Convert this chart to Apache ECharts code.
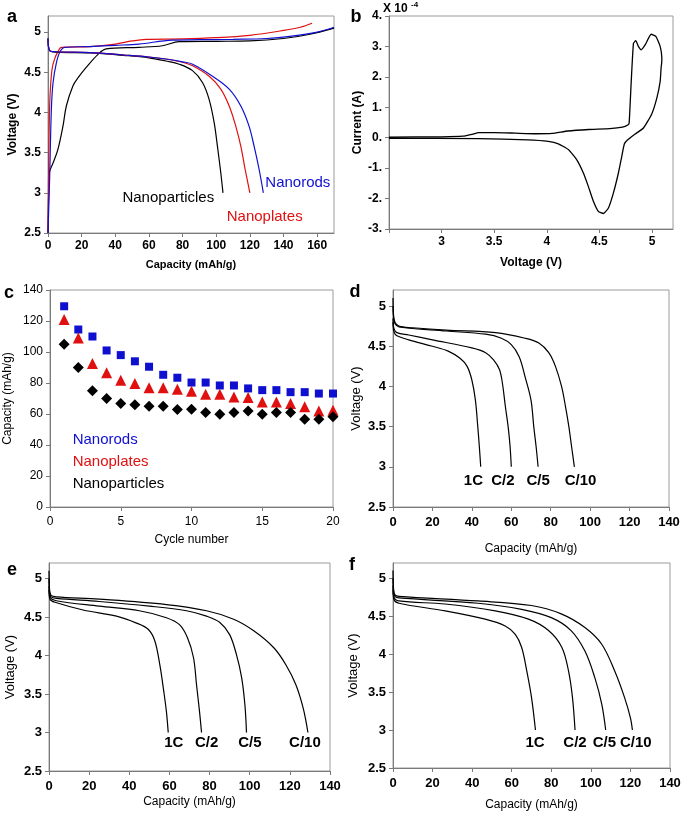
<!DOCTYPE html>
<html><head><meta charset="utf-8">
<script src="https://cdn.jsdelivr.net/npm/echarts@6/dist/echarts.min.js"></script>
<style>html,body{margin:0;padding:0;background:#fff}#c{width:685px;height:817px}</style>
</head><body><div id="c"></div>
<script>
// ---------- Panel a: charge/discharge, capacity (mAh/g) vs voltage (V)
const aRodsCharge = [[0,2.5],[0.5,2.85],[1,3.2],[2,4.04],[3,4.37],[5,4.62],[7,4.75],[9.9,4.81],[24.7,4.82],[40,4.835],[54,4.85],[73.8,4.9],[90,4.905],[110,4.91],[130,4.92],[145,4.95],[160,5.0],[170,5.06]];
const aPlatesCharge = [[0,2.5],[0.5,3.5],[1,4.1],[1.6,4.35],[2.5,4.55],[4,4.67],[6,4.76],[7.9,4.81],[25,4.82],[40,4.85],[50,4.89],[58.3,4.91],[80,4.915],[100,4.93],[120,4.96],[140,5.02],[150,5.06],[157,5.11]];
const aPartCharge = [[0,2.5],[0.4,3.0],[0.8,3.25],[3,3.37],[5.9,3.54],[8.9,3.83],[10.9,4.08],[14.8,4.33],[17.8,4.43],[22.7,4.56],[29.6,4.72],[34.6,4.79],[54,4.81],[68,4.83],[78,4.88],[100,4.885],[120,4.89],[140,4.92],[155,4.97],[170,5.05]];
const aRodsDis = [[0,4.92],[1,4.77],[5,4.755],[25,4.745],[45,4.715],[60,4.69],[70,4.665],[80,4.63],[86,4.6],[97.8,4.45],[107.7,4.29],[114.6,4.08],[119.5,3.83],[122.5,3.58],[125.5,3.29],[128,3.0]];
const aPlatesDis = [[0,4.92],[1,4.77],[5,4.755],[25,4.745],[45,4.715],[60,4.69],[70,4.665],[80,4.625],[86,4.58],[95.8,4.45],[102.7,4.29],[107.7,4.08],[111.6,3.83],[114.6,3.58],[117.2,3.29],[120,3.0]];
const aPartDis = [[0,4.92],[1,4.77],[5,4.75],[25,4.74],[45,4.71],[60,4.68],[70,4.64],[78,4.6],[85.9,4.52],[91.9,4.37],[95.8,4.16],[98.8,3.87],[100.7,3.58],[102.7,3.25],[104,3.0]];
const aNames = ['Nanoparticles','Nanorods','Nanoplates'];
const aNotePts = [[71.5,2.94],[148.5,3.12],[128.8,2.70]];

// ---------- Panel b: cyclic voltammogram, voltage (V) vs current (x10^-4 A)
const bVolt = [2.5,3.0,3.2,3.3,3.35,3.5,3.7,3.9,4.05,4.2,4.4,4.6,4.72,4.77,4.783,4.802,4.824,4.846,4.871,4.897,4.935,4.992,5.037,5.078,5.094,
  5.092,5.087,5.078,5.046,4.998,4.919,4.84,4.77,4.738,4.713,4.681,4.633,4.586,4.538,4.49,4.443,4.395,4.348,4.284,4.205,4.11,4.014,3.82,3.35,2.5];
const bCurr = [0.02,0.03,0.05,0.12,0.17,0.17,0.15,0.13,0.14,0.22,0.27,0.3,0.35,0.42,0.48,1.79,3.1,3.19,3.0,2.89,3.05,3.4,3.33,3.0,2.61,
  2.45,2.3,1.85,1.3,0.78,0.32,0.12,-0.07,-0.2,-0.61,-1.16,-1.82,-2.31,-2.49,-2.42,-2.09,-1.6,-1.16,-0.72,-0.39,-0.2,-0.12,-0.07,-0.03,-0.02];

// ---------- Panel c: capacity vs cycle number
const cCycles = [1,2,3,4,5,6,7,8,9,10,11,12,13,14,15,16,17,18,19,20];
const cRods = [129.5,114.5,110,101,98,94,90.5,85.3,83.4,80.3,80.3,78.4,78.4,76.5,75.4,75.4,74.1,74.1,73.2,73.2];
const cPlates = [121,109,92.6,86.6,81.8,79.7,76.9,77,76,74.7,72.8,72.8,71,70.6,67.8,67.8,66.8,64.6,62,62.5];
const cParts = [105,90,75,70,66.8,66,65,65,62.9,63.1,61,59.9,61,62,59.9,61,61,56.6,56.6,58.2];
const cNames = ['Nanorods','Nanoplates','Nanoparticles'];
const cNotePts = [[1.6,43],[1.6,29],[1.6,15]];

// ---------- Panels d, e, f: discharge curves at various rates
const rateNames = ['1C','C/2','C/5','C/10'];
const d1C  = [[0,4.8],[0.5,4.68],[2,4.63],[8,4.58],[20,4.5],[28,4.44],[34,4.35],[37.6,4.25],[40,4.08],[41.8,3.83],[43,3.5],[43.8,3.25],[44.5,3.0]];
const dC2  = [[0,4.85],[0.5,4.72],[2,4.67],[8,4.64],[20,4.58],[40,4.48],[47,4.42],[51,4.33],[54,4.21],[55.5,4.04],[57,3.75],[58.4,3.5],[59.4,3.25],[60,3.0]];
const dC5  = [[0,5.0],[0.3,4.85],[1,4.78],[3,4.74],[27,4.69],[47,4.65],[55,4.6],[60,4.52],[64,4.37],[67,4.12],[70,3.83],[71.4,3.5],[72.6,3.25],[73.6,3.0]];
const dC10 = [[0,5.1],[0.3,4.88],[1,4.8],[3,4.75],[10,4.73],[27,4.7],[52,4.67],[67,4.6],[74,4.54],[79,4.42],[82.4,4.25],[85.5,4.0],[87.5,3.75],[89.2,3.5],[90.6,3.25],[92,3.0]];
const dNotePts = [[40.8,2.83],[55.7,2.83],[73.6,2.83],[95.1,2.83]];

const e1C  = [[0,4.85],[0.5,4.73],[3,4.69],[17,4.59],[33.6,4.51],[43.6,4.42],[49.4,4.34],[52.7,4.19],[55.2,3.88],[57.2,3.53],[58.5,3.27],[59.4,3.0]];
const eC2  = [[0,4.9],[0.5,4.76],[3.7,4.71],[25,4.64],[45,4.58],[58.5,4.49],[65,4.4],[69,4.23],[72,3.97],[73.5,3.62],[75,3.27],[76,3.0]];
const eC5  = [[0,5.0],[0.3,4.82],[1,4.76],[3.7,4.74],[25,4.7],[50,4.64],[68.5,4.58],[78.5,4.51],[85,4.43],[90,4.27],[93.4,4.01],[96,3.71],[97.6,3.36],[98.4,3.0]];
const eC10 = [[0,5.1],[0.3,4.85],[1,4.78],[3.7,4.76],[25,4.73],[58.5,4.66],[78.5,4.58],[92,4.47],[102,4.32],[112,4.1],[118,3.88],[123,3.62],[126.7,3.31],[129,3.0]];
const eNotePts = [[62.2,2.86],[78.5,2.86],[100.1,2.86],[127.5,2.86]];

const f1C  = [[0,4.85],[0.5,4.72],[3,4.67],[26.4,4.57],[46.6,4.46],[56.7,4.37],[61.8,4.26],[65,4.09],[67.6,3.78],[70,3.43],[72,3.0]];
const fC2  = [[0,4.9],[0.5,4.75],[3,4.7],[26.4,4.66],[51.7,4.57],[68.5,4.46],[78.6,4.31],[85.3,4.09],[88.7,3.78],[90.7,3.43],[92,3.0]];
const fC5  = [[0,5.0],[0.3,4.82],[1,4.76],[3,4.74],[43,4.67],[65,4.59],[80,4.48],[90,4.31],[97,4.04],[102,3.69],[105.5,3.34],[107.5,3.0]];
const fC10 = [[0,5.1],[0.3,4.85],[1,4.78],[3,4.76],[43,4.7],[70,4.64],[85,4.53],[97,4.35],[105.5,4.13],[112,3.78],[117,3.43],[120,3.16],[121,3.0]];
const fNotePts = [[71.8,2.83],[92,2.83],[106.8,2.83],[122.7,2.83]];

// tick values
const vTicks = [2.5,3,3.5,4,4.5,5];
const aCapTicks = [0,20,40,60,80,100,120,140,160];
const capTicks = [0,20,40,60,80,100,120,140];
const bVTicks = [2.5,3,3.5,4,4.5,5];
const bVLabels = [3,3.5,4,4.5,5];
const bITicks = [-3,-2,-1,0,1,2,3,4];
const cCycTicks = [0,5,10,15,20];
const cCapTicks = [0,20,40,60,80,100,120,140];

// ---------- build
const FONT = "'Liberation Sans', Arial, Helvetica, sans-serif";
const BLUE = '#0f0fd0', RED = '#e01010', BLACK = '#000000';
const AX = '#7a7a7a';

const grids = [
  {left:48, top:16, width:286, height:217},
  {left:389, top:16, width:284, height:213},
  {left:50, top:290, width:283, height:217},
  {left:393, top:290, width:276, height:217},
  {left:49, top:563, width:281, height:208},
  {left:393, top:563, width:277, height:205}
].map(g => Object.assign(g, {show:true, borderColor:'#9a9a9a', borderWidth:1, containLabel:false}));

function axis(gi, min, max, interval, ticks, labels, name, nameGap, o) {
  o = o || {};
  return {
    type:'value', gridIndex:gi, min:min, max:max, interval:interval,
    axisLine:{show:true, onZero:false, lineStyle:{color:AX, width:1}},
    axisTick:{show:true, inside:false, length:4, lineStyle:{color:AX}, customValues:ticks},
    axisLabel:{customValues:labels, color:'#000', fontFamily:FONT, fontSize:o.fs||12,
      fontWeight:o.fw||'bold', margin:o.margin||7, formatter:o.fmt},
    splitLine:{show:false},
    name:name, nameLocation:'middle', nameGap:nameGap,
    nameTextStyle:{color:'#000', fontFamily:FONT, fontSize:o.nfs||12, fontWeight:o.nfw||'bold'}
  };
}

const xAxes = [
  axis(0, 0, 170, 20, aCapTicks, aCapTicks, 'Capacity (mAh/g)', 26, {nfs:11}),
  axis(1, 2.5, 5.2, 0.5, bVTicks, bVLabels, 'Voltage (V)', 28, {nfs:12}),
  axis(2, 0, 20, 5, cCycTicks, cCycTicks, 'Cycle number', 27, {fw:'normal', nfw:'normal', margin:9}),
  axis(3, 0, 140, 20, capTicks, capTicks, 'Capacity (mAh/g)', 36, {fs:13, nfw:'normal', margin:9}),
  axis(4, 0, 140, 20, capTicks, capTicks, 'Capacity (mAh/g)', 25, {fs:13, nfw:'normal', margin:9}),
  axis(5, 0, 140, 20, capTicks, capTicks, 'Capacity (mAh/g)', 31, {fs:13, nfw:'normal', margin:9})
];
const yAxes = [
  axis(0, 2.5, 5.2, 0.5, vTicks, vTicks, 'Voltage (V)', 29, {}),
  axis(1, -3, 4, 1, bITicks, bITicks, 'Current (A)', 25, {fmt: v => v + '.'}),
  axis(2, 0, 140, 20, cCapTicks, cCapTicks, 'Capacity (mAh/g)', 36, {fw:'normal', nfw:'normal', nfs:12}),
  axis(3, 2.5, 5.2, 0.5, vTicks, vTicks, 'Voltage (V)', 30, {fs:13, nfw:'normal', nfs:13}),
  axis(4, 2.5, 5.2, 0.5, vTicks, vTicks, 'Voltage (V)', 32, {fs:13, nfw:'normal', nfs:13}),
  axis(5, 2.5, 5.2, 0.5, vTicks, vTicks, 'Voltage (V)', 33, {fs:13, nfw:'normal', nfs:13})
];

function line(gi, data, color, w, smooth) {
  return {type:'line', xAxisIndex:gi, yAxisIndex:gi, data:data, showSymbol:false, symbol:'none',
    smooth: smooth === undefined ? 0.35 : smooth,
    lineStyle:{color:color, width:w||1.2}, silent:true, animation:false, z:3};
}
function notes(gi, pts, texts, colors, style) {
  return {type:'scatter', xAxisIndex:gi, yAxisIndex:gi, symbolSize:0, silent:true, animation:false, z:5,
    itemStyle:{opacity:1},
    data: pts.map((p,i) => ({value:p, label:{show:true, formatter:texts[i], color:colors[i], opacity:1,
      position: style.pos || 'inside', align: style.align || 'center', verticalAlign:'middle',
      fontFamily:FONT, fontSize:style.fs, fontWeight:style.fw, distance:0}}))};
}
function scat(gi, xs, ys, sym, size, color) {
  return {type:'scatter', xAxisIndex:gi, yAxisIndex:gi, symbol:sym, symbolSize:size,
    data: xs.map((x,i) => [x, ys[i]]), itemStyle:{color:color, opacity:1}, silent:true, animation:false, z:4};
}

const series = [
  line(0, aPartCharge, BLACK), line(0, aPlatesCharge, RED), line(0, aRodsCharge, BLUE),
  line(0, aPartDis, BLACK), line(0, aPlatesDis, RED), line(0, aRodsDis, BLUE),
  notes(0, aNotePts, aNames, [BLACK, BLUE, RED], {fs:15, fw:'normal'}),
  line(1, bVolt.map((v,i) => [v, bCurr[i]]), BLACK, 1.3, 0.15),
  scat(2, cCycles, cRods, 'rect', 8, BLUE),
  scat(2, cCycles, cPlates, 'triangle', 11, RED),
  scat(2, cCycles, cParts, 'diamond', 11, BLACK),
  notes(2, cNotePts, cNames, [BLUE, RED, BLACK], {fs:15, fw:'normal', pos:'right', align:'left'}),
  line(3, d1C, BLACK), line(3, dC2, BLACK), line(3, dC5, BLACK), line(3, dC10, BLACK),
  notes(3, dNotePts, rateNames, [BLACK,BLACK,BLACK,BLACK], {fs:15, fw:'bold'}),
  line(4, e1C, BLACK), line(4, eC2, BLACK), line(4, eC5, BLACK), line(4, eC10, BLACK),
  notes(4, eNotePts, rateNames, [BLACK,BLACK,BLACK,BLACK], {fs:15, fw:'bold'}),
  line(5, f1C, BLACK), line(5, fC2, BLACK), line(5, fC5, BLACK), line(5, fC10, BLACK),
  notes(5, fNotePts, rateNames, [BLACK,BLACK,BLACK,BLACK], {fs:15, fw:'bold'})
];

function letter(t, x, y) {
  return {type:'text', x:x, y:y, style:{text:t, fontFamily:FONT, fontSize:18, fontWeight:'bold', fill:'#000',
    textAlign:'center', textVerticalAlign:'middle'}};
}
const graphic = [
  letter('a', 12, 17), letter('b', 356, 17), letter('c', 9, 293),
  letter('d', 355, 292), letter('e', 12, 570), letter('f', 352, 565),
  {type:'text', x:383, y:9, style:{text:'X 10', fontFamily:FONT, fontSize:12, fontWeight:'bold', fill:'#000', textVerticalAlign:'middle'}},
  {type:'text', x:411, y:5, style:{text:'-4', fontFamily:FONT, fontSize:8, fontWeight:'bold', fill:'#000', textVerticalAlign:'middle'}}
];

const chart = echarts.init(document.getElementById('c'), null, {renderer:'canvas'});
chart.setOption({backgroundColor:'#fff', animation:false, grid:grids, xAxis:xAxes, yAxis:yAxes, series:series, graphic:graphic});
</script></body></html>
